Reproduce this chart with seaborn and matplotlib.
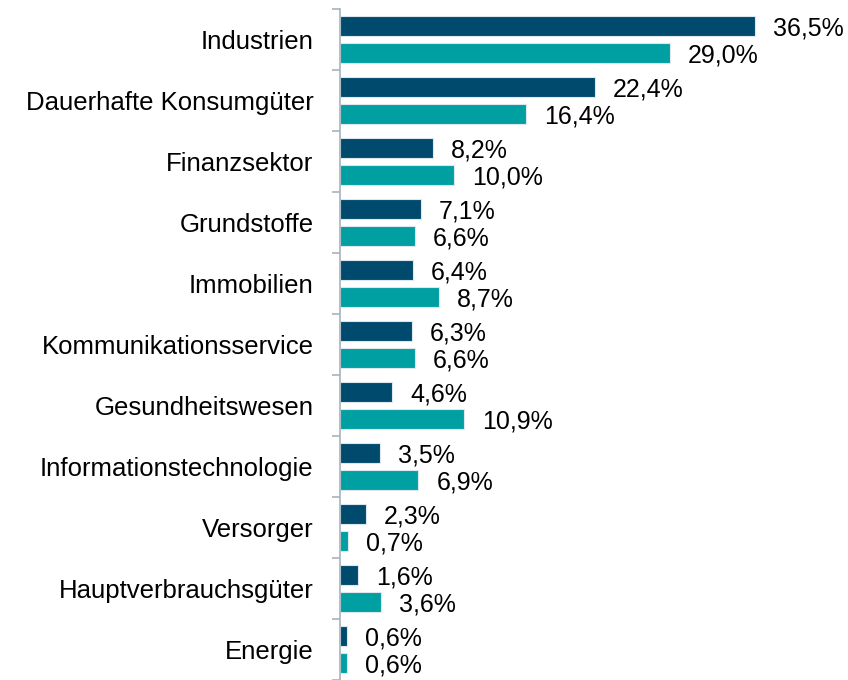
import matplotlib
matplotlib.use("Agg")
import matplotlib.pyplot as plt
import pandas as pd
import seaborn as sns

# sector weights in percent, two series
sectors = ["Industrien", "Dauerhafte Konsumgüter", "Finanzsektor", "Grundstoffe",
           "Immobilien", "Kommunikationsservice", "Gesundheitswesen",
           "Informationstechnologie", "Versorger", "Hauptverbrauchsgüter", "Energie"]
series_names = ["Fonds", "Vergleichsindex"]
fonds = [36.5, 22.4, 8.2, 7.1, 6.4, 6.3, 4.6, 3.5, 2.3, 1.6, 0.6]
index = [29.0, 16.4, 10.0, 6.6, 8.7, 6.6, 10.9, 6.9, 0.7, 3.6, 0.6]

colors = ["#004a6e", "#00a0a2"]

df = pd.DataFrame({
    "sector": sectors * 2,
    "value": fonds + index,
    "series": [series_names[0]] * len(sectors) + [series_names[1]] * len(sectors),
})

sns.set_style("white")
plt.rcParams["font.family"] = ["Liberation Sans", "DejaVu Sans"]

fig = plt.figure(figsize=(8.48, 6.8), dpi=100)
ax = fig.add_axes([340 / 848, 0.0, 490 / 848, 671 / 680])

sns.barplot(data=df, x="value", y="sector", hue="series", order=sectors,
            hue_order=series_names, palette=colors, saturation=1, orient="h",
            width=0.88, gap=0.27, edgecolor="#dde8ee", linewidth=0.8,
            legend=False, ax=ax)

for cont in ax.containers:
    labels = [f"{b.get_width():.1f}".replace(".", ",") + "%" for b in cont]
    texts = ax.bar_label(cont, labels=labels, padding=13, fontsize=18, color="black")
    for t in texts:
        t.xyann = (13, -2)

ax.set_xlim(0, 490 / 11.37)
ax.set_ylim(len(sectors) - 0.5, -0.5)
ax.set_xlabel("")
ax.set_ylabel("")
ax.set_xticks([])

for side in ["top", "right", "bottom"]:
    ax.spines[side].set_visible(False)
ax.spines["left"].set_color("#a6b4bc")
ax.spines["left"].set_linewidth(1.2)

ax.set_yticks(range(len(sectors)))
ax.set_yticklabels(sectors, fontsize=18.5, color="black")
ax.tick_params(axis="y", which="major", left=False, length=0, pad=19)
ax.set_yticks([i - 0.5 for i in range(len(sectors) + 1)], minor=True)
ax.tick_params(axis="y", which="minor", left=True, length=6, width=1.2,
               color="#a6b4bc", direction="out")

fig.savefig("out.png", dpi=100)
